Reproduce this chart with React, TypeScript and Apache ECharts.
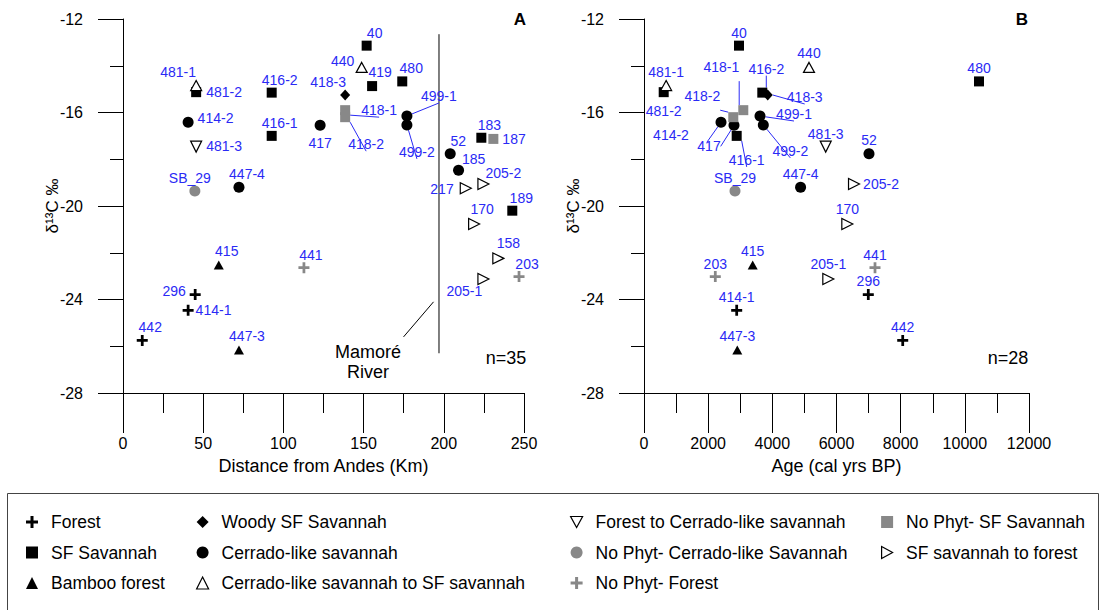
import React, { useEffect, useRef } from 'react';
import * as echarts from 'echarts';

// ---------- DATA ----------
const categories = [
  'Forest',
  'SF Savannah',
  'Bamboo forest',
  'Woody SF Savannah',
  'Cerrado-like savannah',
  'Cerrado-like savannah to SF savannah',
  'Forest to Cerrado-like savannah',
  'No Phyt- Cerrado-like Savannah',
  'No Phyt- Forest',
  'No Phyt- SF Savannah',
  'SF savannah to forest',
];

const sampleIds = ['481-1', '481-2', '414-2', '481-3', 'SB_29', '447-4', '416-2', '416-1', '417', '418-3', '418-1', '418-2', '40', '440', '419', '480', '499-1', '499-2', '183', '187', '52', '185', '217', '205-2', '189', '170', '158', '203', '205-1', '441', '415', '296', '414-1', '442', '447-3'];
const sampleCategory = [5, 1, 4, 6, 7, 4, 1, 1, 4, 3, 9, 9, 1, 5, 1, 1, 4, 4, 1, 9, 4, 4, 10, 10, 1, 10, 10, 8, 10, 8, 2, 0, 0, 0, 2];
const distanceKm = [45.6, 45.6, 40.6, 45.6, 44.8, 72.3, 92.7, 92.7, 122.9, 138.5, 138.5, 138.5, 151.9, 148.8, 155.3, 174.1, 177, 177, 223.4, 230.9, 204, 209.2, 213.7, 224.7, 242.7, 218.9, 234, 246.9, 224.7, 112.8, 59.7, 45, 40.6, 12, 72.3];
const ageCalBP: (number | null)[] = [690, 614, 2400, 5664, 2836, 4880, 3687, 2889, 2805, 3856, 3095, 2783, 2961, 5143, null, 10442, 3616, 3719, null, null, 7013, null, null, 6546, null, 6337, null, 2222, 5745, 7200, 3388, 6991, 2889, 8064, 2908];
const d13C = [-14.85, -15.13, -16.42, -17.46, -19.36, -19.2, -15.15, -17.0, -16.55, -15.25, -15.9, -16.2, -13.14, -14.07, -14.87, -14.67, -16.15, -16.53, -17.08, -17.13, -17.76, -18.47, -19.24, -19.06, -20.2, -20.77, -22.24, -23.02, -23.12, -22.64, -22.52, -23.79, -24.46, -25.75, -26.16];

const distanceTicks = { min: 0, max: 250, interval: 50 };
const ageTicks = { min: 0, max: 12000, interval: 2000 };
const d13CTicks = { min: -28, max: -12, interval: 4 };

// Mamoré River annotation (data coordinates of panel A)
const riverLine = [[197, -12.65], [197, -26.3]];
const riverLeader = [[193.6, -24.1], [174.9, -25.6]];

// ---------- STYLE ----------
const FONT = '"Liberation Sans", Arial, Helvetica, sans-serif';
const BLUE = '#2a2af5';
const PLUS = 'path://M4.5,0H7.5V4.5H12V7.5H7.5V12H4.5V7.5H0V4.5H4.5Z';
const TRI_DOWN_ICON = 'path://M0,0L12,0L6,11Z';
const TRI_RIGHT_ICON = 'path://M0,0L11,6L0,12Z';

const catStyle: any[] = [
  { symbol: PLUS, size: 11, color: '#000' },
  { symbol: 'rect', size: 10, color: '#000' },
  { symbol: 'triangle', size: [10, 9], color: '#000' },
  { symbol: 'diamond', size: [10, 11], color: '#000' },
  { symbol: 'circle', size: 11, color: '#000' },
  { symbol: 'triangle', size: [11, 10], color: '#fff', border: '#000' },
  { symbol: 'triangle', size: 11, rotate: 180, color: '#fff', border: '#000', icon: TRI_DOWN_ICON },
  { symbol: 'circle', size: 11, color: '#888' },
  { symbol: PLUS, size: 11, color: '#888' },
  { symbol: 'rect', size: 10, color: '#888' },
  { symbol: 'triangle', size: 11, rotate: -90, color: '#fff', border: '#000', icon: TRI_RIGHT_ICON },
];

// label placement: [pos, a, b, leader]; 'c' = centred + offset(a,b); 'r'/'l' = side, distance a, dy b
const labelA: Record<string, any[]> = {
  '481-1': ['c', -18, -14], '481-2': ['r', 5, 0], '414-2': ['r', 4, -4], '481-3': ['r', 4, -1],
  'SB_29': ['c', -5, -13], '447-4': ['c', 8, -13], '416-2': ['c', 8, -13], '416-1': ['c', 8, -13],
  '417': ['c', 0, 18], '418-3': ['c', -17, -13], '418-1': ['c', 34, 0, 1], '418-2': ['c', 21, 27, 1],
  '40': ['c', 8, -13], '440': ['c', -19, -6], '419': ['c', 8, -14], '480': ['c', 9, -13],
  '499-1': ['c', 32, -20, 1], '499-2': ['c', 10, 27, 1], '183': ['c', 8, -13], '187': ['r', 4, 0],
  '52': ['c', 8, -13], '185': ['c', 15, -11], '217': ['l', 6, 1], '205-2': ['c', 20, -11],
  '189': ['c', 9, -13], '170': ['c', 8, -15], '158': ['c', 10, -15], '203': ['c', 8, -13],
  '205-1': ['c', -19, 12], '441': ['c', 7, -13], '415': ['c', 8, -14], '296': ['c', -21, -4],
  '414-1': ['r', 2, 0], '442': ['c', 8, -13], '447-3': ['c', 8, -14],
};
const labelB: Record<string, any[]> = {
  '40': ['c', 0, -13], '481-1': ['c', 0, -14], '481-2': ['c', 0, 19], '440': ['c', 0, -14],
  '416-2': ['c', 4, -24, 1], '418-3': ['c', 37, 2, 1], '418-1': ['c', -22, -43, 1], '418-2': ['c', -31, -21, 1],
  '414-2': ['c', -50, 13, 1], '417': ['c', -25, 21, 1], '416-1': ['c', 10, 24, 1], '499-1': ['c', 34, -2, 1],
  '499-2': ['c', 27, 26, 1], '481-3': ['c', 0, -13], '52': ['c', 0, -14], 'SB_29': ['c', 0, -13],
  '447-4': ['c', 0, -13], '480': ['c', 0, -13], '205-2': ['r', 3, 0], '170': ['c', 0, -15],
  '415': ['c', 0, -14], '203': ['c', 0, -13], '205-1': ['c', 0, -15], '441': ['c', 0, -13],
  '296': ['c', 0, -14], '414-1': ['c', 0, -13], '447-3': ['c', 0, -14], '442': ['c', 0, -13],
};

function item(id: string, value: number[], spec: any[]) {
  const [pos, a, b, lead] = spec || ['c', 0, -13];
  const label =
    pos === 'c'
      ? { position: 'inside', offset: [a, b] }
      : { position: pos === 'r' ? 'right' : 'left', distance: a, offset: [0, b] };
  const o: any = { name: id, value, label };
  if (lead) o.labelLine = { show: true, lineStyle: { color: BLUE, width: 1, opacity: 1 } };
  return o;
}

function xAxis(gridIndex: number, t: any, name: string) {
  return {
    type: 'value', gridIndex, min: t.min, max: t.max, interval: t.interval,
    name, nameLocation: 'middle', nameGap: 64, nameMoveOverlap: false,
    nameTextStyle: { fontFamily: FONT, fontSize: 18, color: '#000' },
    axisLine: { show: true, onZero: false, lineStyle: { color: '#000', width: 1 } },
    axisTick: { show: true, inside: false, length: 40, lineStyle: { color: '#000', width: 1 } },
    minorTick: { show: true, splitNumber: 2, length: 20, lineStyle: { color: '#000', width: 1 } },
    axisLabel: { margin: 42, fontFamily: FONT, fontSize: 16, color: '#000', formatter: (v: number) => String(v) },
    splitLine: { show: false }, minorSplitLine: { show: false },
  };
}
function yAxis(gridIndex: number) {
  return {
    type: 'value', gridIndex, min: d13CTicks.min, max: d13CTicks.max, interval: d13CTicks.interval,
    name: 'δ¹³C ‰', nameLocation: 'middle', nameGap: 62, nameMoveOverlap: false,
    nameTextStyle: { fontFamily: FONT, fontSize: 17, color: '#000' },
    axisLine: { show: true, onZero: false, lineStyle: { color: '#000', width: 1 } },
    axisTick: { show: true, inside: false, length: 25, lineStyle: { color: '#000', width: 1 } },
    minorTick: { show: true, splitNumber: 2, length: 13, lineStyle: { color: '#000', width: 1 } },
    axisLabel: { margin: 40, fontFamily: FONT, fontSize: 16, color: '#000', formatter: (v: number) => String(v) },
    splitLine: { show: false }, minorSplitLine: { show: false },
  };
}

function buildOption() {
  const series: any[] = [];
  categories.forEach((cat, ci) => {
    const st = catStyle[ci];
    const common = {
      type: 'scatter', name: cat, symbol: st.symbol, symbolSize: st.size, symbolRotate: st.rotate || 0,
      itemStyle: st.border
        ? { color: st.color, borderColor: st.border, borderWidth: 1.2, opacity: 1 }
        : { color: st.color, borderWidth: 0, opacity: 1 },
      label: { show: true, formatter: '{b}', color: BLUE, fontFamily: FONT, fontSize: 14, textBorderWidth: 0, opacity: 1 },
      labelLine: { show: false },
      emphasis: { disabled: true },
      z: 3,
    };
    const dataA: any[] = [];
    const dataB: any[] = [];
    sampleIds.forEach((id, i) => {
      if (sampleCategory[i] !== ci) return;
      dataA.push(item(id, [distanceKm[i], d13C[i]], labelA[id]));
      const age = ageCalBP[i];
      if (age != null) dataB.push(item(id, [age, d13C[i]], labelB[id]));
    });
    series.push({ ...common, xAxisIndex: 0, yAxisIndex: 0, data: dataA });
    series.push({ ...common, xAxisIndex: 1, yAxisIndex: 1, data: dataB });
  });
  [riverLine, riverLeader].forEach((d) => {
    series.push({
      type: 'line', xAxisIndex: 0, yAxisIndex: 0, data: d, symbol: 'none', silent: true, z: 2,
      lineStyle: { color: '#000', width: 1 },
    });
  });

  const legendCols = [[0, 1, 2], [3, 4, 5], [6, 7, 8], [9, 10]];
  const legendLeft = [26, 196, 570, 881];
  const legend = legendCols.map((cols, k) => ({
    orient: 'vertical', left: legendLeft[k], top: 513, padding: 0,
    itemWidth: 12, itemHeight: 12, itemGap: 12.5, selectedMode: false,
    data: cols.map((c) => {
      const st = catStyle[c];
      const d: any = { name: categories[c] };
      if (st.icon) d.icon = st.icon;
      if (st.border) d.itemStyle = { borderWidth: 1.2, borderColor: '#000', color: '#fff', opacity: 1 };
      else d.itemStyle = { opacity: 1 };
      return d;
    }),
    textStyle: { fontFamily: FONT, fontSize: 17.5, color: '#000', lineHeight: 18, padding: [0, 0, 0, 8] },
  }));

  const txt = (x: number, y: number, text: string, size: number, bold = false) => ({
    type: 'text', x, y, silent: true,
    style: {
      text, fill: '#000', fontSize: size, fontFamily: FONT, fontWeight: bold ? 'bold' : 'normal',
      align: 'center', verticalAlign: 'middle', textAlign: 'center', textVerticalAlign: 'middle',
    },
  });

  return {
    animation: false,
    backgroundColor: '#fff',
    grid: [
      { left: 123, top: 19, width: 401, height: 374, outerBoundsMode: 'none' },
      { left: 644, top: 19, width: 385, height: 374, outerBoundsMode: 'none' },
    ],
    xAxis: [xAxis(0, distanceTicks, 'Distance from Andes (Km)'), xAxis(1, ageTicks, 'Age (cal yrs BP)')],
    yAxis: [yAxis(0), yAxis(1)],
    legend,
    series,
    graphic: [
      { type: 'rect', silent: true, shape: { x: 7.5, y: 493.5, width: 1091, height: 140 }, style: { fill: 'none', stroke: '#444', lineWidth: 1 } },
      txt(520, 19, 'A', 17, true),
      txt(1022, 19, 'B', 17, true),
      txt(506, 358, 'n=35', 18),
      txt(1008, 358, 'n=28', 18),
      txt(368, 352, 'Mamoré', 18),
      txt(368, 372, 'River', 18),
    ],
  };
}

export default function App() {
  const ref = useRef<HTMLDivElement>(null);
  useEffect(() => {
    const chart = echarts.init(ref.current!, null, { renderer: 'svg' });
    chart.setOption(buildOption() as any);
    return () => chart.dispose();
  }, []);
  return (
    <div
      ref={ref}
      style={{ position: 'fixed', left: 0, top: 0, width: 1106, height: 610, background: '#fff' }}
    />
  );
}
